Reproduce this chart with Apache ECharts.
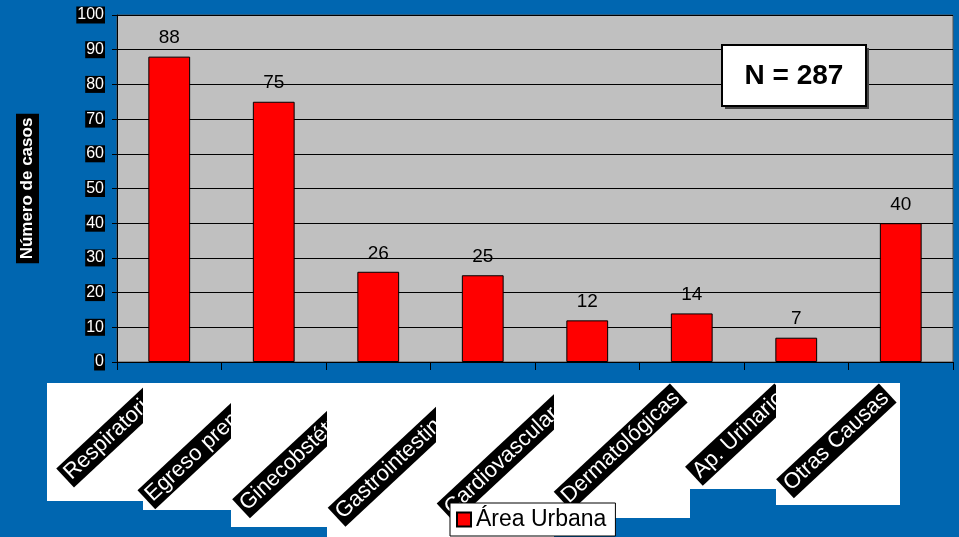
<!DOCTYPE html>
<html>
<head>
<meta charset="utf-8">
<script src="https://cdn.jsdelivr.net/npm/echarts@6/dist/echarts.min.js"></script>
<style>
  html, body { margin: 0; padding: 0; background: #0066B0; }
  #chart { width: 959px; height: 537px; }
</style>
</head>
<body>
<div id="chart"></div>
<script>
// Causes of consultation, urban area
const categories = ['Respiratoria', 'Egreso premat.', 'Ginecobstétricas', 'Gastrointestinales',
                    'Cardiovasculares', 'Dermatológicas', 'Ap. Urinario', 'Otras Causas'];
const casos = [88, 75, 26, 25, 12, 14, 7, 40];
const seriesName = 'Área Urbana';
const yTicks = [0, 10, 20, 30, 40, 50, 60, 70, 80, 90, 100];
const totalText = 'N = 287';

// White panels behind each rotated category label: [left, right] offsets from
// the category centre and the panel bottom (px)
const panelLayout = [
  [-122, -26, 501], [-131, -43, 510], [-147, -52, 527], [-156, -46, 540],
  [-151, -34, 540], [-138, -3, 518], [-107, -20, 489], [-125, -2, 505]
];

const chart = echarts.init(document.getElementById('chart'));
const FONT = '"Liberation Sans", Arial, sans-serif';

const option = {
  backgroundColor: '#0066B0',
  animation: false,
  grid: { left: 117, right: 6, top: 15, bottom: 175, show: true,
          backgroundColor: '#C0C0C0', borderColor: '#555', borderWidth: 1 },
  legend: {
    data: [seriesName], left: 450, top: 503, z: 100,
    backgroundColor: '#fff', borderColor: '#000', borderWidth: 1,
    padding: [5, 9, 5, 6], itemWidth: 14, itemHeight: 14, itemGap: 6,
    icon: 'rect',
    textStyle: { fontFamily: FONT, fontSize: 23, color: '#000' }
  },
  xAxis: {
    type: 'category', data: categories,
    axisLine: { lineStyle: { color: '#000', width: 1 } },
    axisTick: { show: true, interval: 0, length: 8, lineStyle: { color: '#000' } },
    axisLabel: { show: false, interval: 0 },
    splitLine: { show: false }
  },
  yAxis: {
    type: 'value', min: yTicks[0], max: yTicks[yTicks.length - 1], interval: 10,
    name: 'Número de casos', nameLocation: 'middle', nameGap: 78,
    nameTextStyle: { fontFamily: FONT, fontSize: 17, fontWeight: 'bold', color: '#fff',
                     backgroundColor: '#000', padding: [3, 4, 3, 4] },
    axisLine: { show: true, lineStyle: { color: '#000' } },
    axisTick: { show: true, length: 5, lineStyle: { color: '#000' } },
    axisLabel: { fontFamily: FONT, fontSize: 16, color: '#fff', backgroundColor: '#000',
                 padding: [1, 1, 0, 1], margin: 12 },
    splitLine: { show: true, lineStyle: { color: '#000', width: 1 } }
  },
  series: [{
    name: seriesName, type: 'bar', data: casos, barWidth: '40%',
    itemStyle: { color: '#FF0000', borderColor: '#000', borderWidth: 1 },
    label: { show: true, position: 'top', distance: 9, fontFamily: FONT,
             fontSize: 19, color: '#000' }
  }]
};
chart.setOption(option);

// Category labels: white panel + rotated white-on-black text, layered in order
// so that each later panel hides the overflow of the previous label.
const graphics = [];
categories.forEach((name, i) => {
  const cx = chart.convertToPixel({ xAxisIndex: 0 }, i);
  const [l, r, b] = panelLayout[i];
  const x0 = Math.round(cx + l), x1 = Math.round(cx + r) + 1;
  graphics.push({
    type: 'rect', z: 10 + i * 2, silent: true,
    shape: { x: x0, y: 383, width: x1 - x0, height: b - 383 },
    style: { fill: '#fff' }
  });
  graphics.push({
    type: 'text', z: 11 + i * 2, silent: true,
    x: cx - 13, y: 393, rotation: 43 * Math.PI / 180,
    style: { text: name, fill: '#fff', backgroundColor: '#000',
             font: '22px ' + FONT, align: 'right', verticalAlign: 'middle',
             lineHeight: 24, padding: [1, 3, 1, 3] }
  });
});
// Total count box
graphics.push({
  type: 'group', z: 50,
  children: [
    { type: 'rect', shape: { x: 725, y: 48, width: 144, height: 61 },
      style: { fill: '#444' } },
    { type: 'rect', shape: { x: 722, y: 45, width: 144, height: 61 },
      style: { fill: '#fff', stroke: '#000', lineWidth: 2 } },
    { type: 'text', x: 794, y: 76,
      style: { text: totalText, font: 'bold 28px ' + FONT, fill: '#000',
               align: 'center', verticalAlign: 'middle' } }
  ]
});
chart.setOption({ graphic: graphics });
</script>
</body>
</html>
